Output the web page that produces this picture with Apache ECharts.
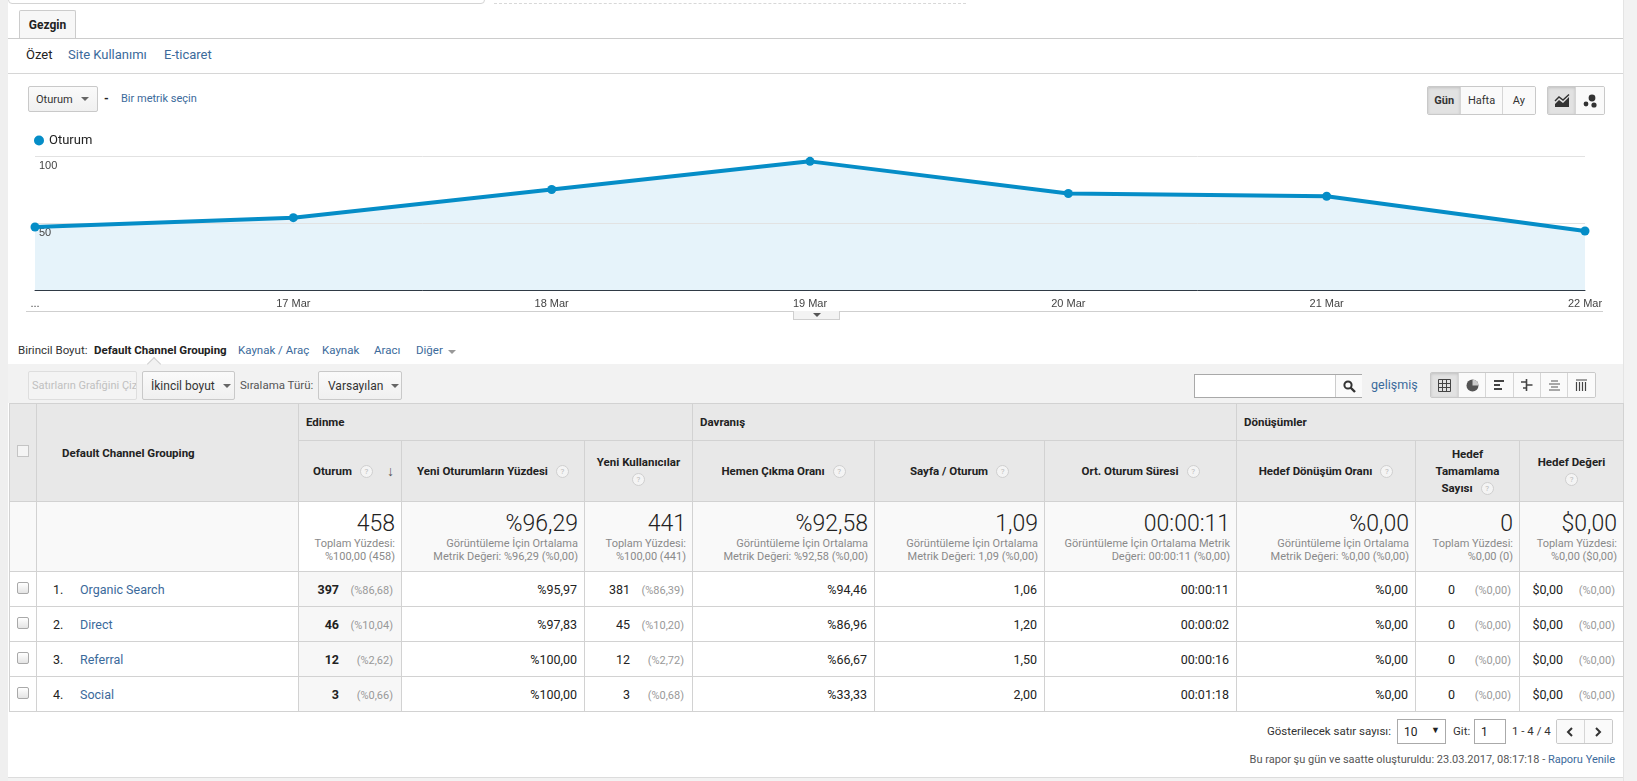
<!DOCTYPE html>
<html>
<head>
<meta charset="utf-8">
<script src="https://cdn.jsdelivr.net/npm/echarts@6/dist/echarts.min.js"></script>
<style>
body{margin:0;width:1637px;height:781px;overflow:hidden;background:#fff;font-family:Roboto,Arial,sans-serif;color:#222;position:relative}
.abs{position:absolute;white-space:nowrap}
.link{color:#3b6a9b}
.btn{position:absolute;box-sizing:border-box;border:1px solid #c9c9c9;border-radius:2px;background:linear-gradient(#fafafa,#f0f0f0);font-size:11px;color:#333;display:flex;align-items:center;white-space:nowrap}
.caret{display:inline-block;width:0;height:0;border-left:4px solid transparent;border-right:4px solid transparent;border-top:4px solid #666;margin-left:8px}
.grp{position:absolute;display:flex;box-sizing:border-box;border:1px solid #c9c9c9;border-radius:2px;overflow:hidden}
.grp div{display:flex;align-items:center;justify-content:center;border-right:1px solid #d6d6d6;background:#fafafa;font-size:11px;color:#333;box-sizing:border-box}
.grp div:last-child{border-right:none}
.grp div.on{background:#e2e2e2;box-shadow:inset 0 1px 3px rgba(0,0,0,.15);font-weight:bold}
table.dt{position:absolute;left:9px;top:403px;border-collapse:collapse;table-layout:fixed;width:1614px}
.dt td,.dt th{border:1px solid #d2d2d2;padding:0 7px;overflow:hidden}
.dt th{background:#e8e8e8;font-size:11.5px;font-weight:bold;color:#222}
.dt tr.g th{text-align:left;height:36px}
.dt tr.h th{text-align:center;height:60px;line-height:17px}
.q{display:inline-block;width:11px;height:11px;border:1px solid #cfcfcf;border-radius:50%;font-size:8px;line-height:11px;text-align:center;color:#bbb;font-weight:normal;margin-left:8px;vertical-align:middle;background:#f4f4f4}
.dt tr.t td{height:69px;background:#f9f9f9;text-align:right;vertical-align:middle;padding-right:6px}
.dt tr.t td.s{background:#fff}
.big{font-size:23px;font-weight:300;color:#222;line-height:26px}
.sub{font-size:11px;color:#8a8a8a;line-height:13px}
.dt tr.r td{height:34px;font-size:12.5px;color:#222;text-align:right;background:#fff}
.dt tr.r td.s{background:#f7f7f7}
.pc{display:inline-block;width:58px;text-align:right;font-size:11px;color:#999}
.cb{display:inline-block;width:10px;height:10px;border:1px solid #a9a9a9;border-radius:2px;background:linear-gradient(#fff,#e4e4e4)}
</style>
</head>
<body>
<!-- page frame -->
<div class="abs" style="left:0;top:0;width:8px;height:781px;background:#efefef"></div>
<div class="abs" style="left:1623px;top:0;width:14px;height:781px;background:#f2f2f2;border-left:1px solid #e4e4e4"></div>
<div class="abs" style="left:8px;top:-20px;width:475px;height:22px;border:1px solid #d4d4d4;border-radius:4px"></div>
<div class="abs" style="left:494px;top:3px;width:472px;border-top:1px dashed #d8d8d8"></div>

<!-- tabs -->
<div class="abs" style="left:19px;top:10px;width:57px;height:28px;box-sizing:border-box;border:1px solid #ccc;border-bottom:none;background:#f7f7f7;border-radius:2px 2px 0 0;font-size:12px;font-weight:bold;display:flex;align-items:center;justify-content:center;z-index:2">Gezgin</div>
<div class="abs" style="left:8px;top:38px;width:1615px;border-top:1px solid #ccc"></div>
<div class="abs" style="left:26px;top:47px;font-size:13px">Özet</div>
<div class="abs link" style="left:68px;top:47px;font-size:13px">Site Kullanımı</div>
<div class="abs link" style="left:164px;top:47px;font-size:13px">E-ticaret</div>
<div class="abs" style="left:8px;top:73px;width:1615px;border-top:1px solid #d6d6d6"></div>

<!-- metric picker and view buttons -->
<div class="btn" style="left:28px;top:86px;width:70px;height:26px;padding-left:7px">Oturum<span class="caret"></span></div>
<div class="abs" style="left:104px;top:92px;font-size:12px;font-weight:bold">-</div>
<div class="abs link" style="left:121px;top:92px;font-size:11px">Bir metrik seçin</div>
<div class="grp" style="left:1427px;top:86px;width:109px;height:29px">
  <div class="on" style="width:34px">Gün</div><div style="width:42px">Hafta</div><div style="width:33px">Ay</div>
</div>
<div class="grp" style="left:1547px;top:86px;width:58px;height:29px">
  <div class="on" style="width:29px"><svg width="16" height="14" viewBox="0 0 16 14"><path d="M1 13 L1 10 L5 6 L9 9 L15 3 L15 13 Z" fill="#333"/><path d="M1 7 L5 3 L9 6 L15 0.5" stroke="#333" stroke-width="1.4" fill="none"/></svg></div>
  <div style="width:29px"><svg width="16" height="14" viewBox="0 0 16 14"><circle cx="10" cy="4" r="3.4" fill="#333"/><circle cx="4" cy="10" r="2.4" fill="#333"/><circle cx="12" cy="11" r="2.6" fill="#333"/></svg></div>
</div>

<!-- chart -->
<div id="chart" class="abs" style="left:0;top:120px;width:1637px;height:200px"></div>
<div class="abs" style="left:26px;top:311px;width:1577px;border-top:1px solid #cfcfcf"></div>
<div class="abs" style="left:793px;top:311px;width:47px;height:9px;box-sizing:border-box;border:1px solid #cfcfcf;border-top:none;background:#f3f3f3;display:flex;justify-content:center;align-items:center"><span class="caret" style="margin:0;border-top-color:#555"></span></div>

<!-- dimension row -->
<div class="abs" style="left:18px;top:343px;font-size:11.5px;color:#333">Birincil Boyut:</div>
<div class="abs" style="left:94px;top:343px;font-size:11.5px;font-weight:bold">Default Channel Grouping</div>
<div class="abs link" style="left:238px;top:343px;font-size:11.5px">Kaynak / Araç</div>
<div class="abs link" style="left:322px;top:343px;font-size:11.5px">Kaynak</div>
<div class="abs link" style="left:374px;top:343px;font-size:11.5px">Aracı</div>
<div class="abs link" style="left:416px;top:343px;font-size:11.5px">Diğer <span class="caret" style="margin-left:2px;border-top-color:#999"></span></div>

<!-- toolbar -->
<div class="abs" style="left:8px;top:364px;width:1615px;height:39px;background:#f2f2f2"></div>
<div class="abs" style="left:149px;top:359px;width:9px;height:9px;background:#f2f2f2;border-left:1px solid #d0d0d0;border-top:1px solid #d0d0d0;transform:rotate(45deg)"></div>
<div class="btn" style="left:28px;top:371px;width:109px;height:29px;padding-left:3px;color:#c0c0c0;background:#f4f4f4;border-color:#dedede;overflow:hidden">Satırların Grafiğini Çiz</div>
<div class="btn" style="left:142px;top:371px;width:93px;height:29px;padding-left:8px;font-size:12px">İkincil boyut<span class="caret"></span></div>
<div class="abs" style="left:240px;top:378px;font-size:11.5px;color:#555">Sıralama Türü:</div>
<div class="btn" style="left:318px;top:371px;width:84px;height:29px;padding-left:9px;font-size:12px">Varsayılan<span class="caret"></span></div>
<div class="abs" style="left:1194px;top:374px;width:168px;height:24px;box-sizing:border-box;border:1px solid #a9a9a9;background:#fff"></div>
<div class="abs" style="left:1335px;top:375px;width:26px;height:22px;border-left:1px solid #ccc;background:#fafafa;display:flex;align-items:center;justify-content:center"><svg width="13" height="13" viewBox="0 0 13 13"><circle cx="5" cy="5" r="3.6" stroke="#333" stroke-width="2" fill="none"/><path d="M7.5 7.5 L12 12" stroke="#333" stroke-width="2.4"/></svg></div>
<div class="abs link" style="left:1371px;top:377px;font-size:12.5px">gelişmiş</div>
<div class="grp" style="left:1430px;top:372px;width:166px;height:26px">
  <div class="on" style="width:28px"><svg width="13" height="13"><path d="M0.5 0.5h12v12h-12z M0.5 4.5h12 M0.5 8.5h12 M4.5 0.5v12 M8.5 0.5v12" stroke="#444" fill="none"/></svg></div>
  <div style="width:28px"><svg width="13" height="13"><circle cx="6.5" cy="6.5" r="6" fill="#555"/><path d="M6.5 6.5V0.5A6 6 0 0 1 12.5 6.5Z" fill="#ccc"/></svg></div>
  <div style="width:28px"><svg width="12" height="12"><rect x="0" y="1" width="10" height="2" fill="#444"/><rect x="0" y="5" width="6" height="2" fill="#444"/><rect x="0" y="9" width="8" height="2" fill="#444"/></svg></div>
  <div style="width:27px"><svg width="13" height="12"><path d="M6.5 0v12 M1 3h5.5 M6.5 6h6 M3 9h3.5" stroke="#444" stroke-width="1.6"/></svg></div>
  <div style="width:28px"><svg width="13" height="12"><path d="M3 2h7 M1 5h11 M3 8h7 M1 11h11" stroke="#555" stroke-width="1.2"/></svg></div>
  <div style="width:27px"><svg width="13" height="12"><path d="M1 1h11 M1.5 3v9 M4.5 3v9 M7.5 3v9 M10.5 3v9" stroke="#444" stroke-width="1.2"/></svg></div>
</div>

<!-- table -->
<table class="dt" id="dt"></table>

<!-- footer -->
<div class="abs" style="left:1210px;top:724px;width:181px;text-align:right;font-size:11.5px;color:#333">Gösterilecek satır sayısı:</div>
<div class="abs" style="left:1397px;top:719px;width:49px;height:25px;box-sizing:border-box;border:1px solid #aaa;font-size:12px;padding:5px 0 0 6px;background:#fff">10<span style="position:absolute;right:5px;top:5px;font-size:9px">▼</span></div>
<div class="abs" style="left:1453px;top:724px;font-size:11.5px;color:#333">Git:</div>
<div class="abs" style="left:1474px;top:719px;width:32px;height:25px;box-sizing:border-box;border:1px solid #aaa;font-size:12px;padding:5px 0 0 6px;background:#fff">1</div>
<div class="abs" style="left:1512px;top:724px;font-size:11.5px;color:#333">1 - 4 / 4</div>
<div class="grp" style="left:1556px;top:719px;width:57px;height:25px">
  <div style="width:28px"><svg width="8" height="10"><path d="M6 1 L2 5 L6 9" stroke="#333" stroke-width="2" fill="none"/></svg></div>
  <div style="width:28px"><svg width="8" height="10"><path d="M2 1 L6 5 L2 9" stroke="#333" stroke-width="2" fill="none"/></svg></div>
</div>
<div class="abs" style="right:22px;top:753px;font-size:11px;color:#555">Bu rapor şu gün ve saatte oluşturuldu: 23.03.2017, 08:17:18 - <span class="link">Raporu Yenile</span></div>
<div class="abs" style="left:8px;top:777px;width:1615px;height:4px;border-top:1px solid #dcdcdc;background:#f2f2f2"></div>

<script>
// chart data
const days = ['...', '17 Mar', '18 Mar', '19 Mar', '20 Mar', '21 Mar', '22 Mar'];
const sessions = [47, 54, 75, 96, 72, 70, 44];

// table data
const channels = ['Organic Search', 'Direct', 'Referral', 'Social'];
const channelSessions = [397, 46, 12, 3];
const sessionShare = ['%86,68', '%10,04', '%2,62', '%0,66'];
const newSessionPct = ['%95,97', '%97,83', '%100,00', '%100,00'];
const newUsers = [381, 45, 12, 3];
const newUserShare = ['%86,39', '%10,20', '%2,72', '%0,68'];
const bounceRate = ['%94,46', '%86,96', '%66,67', '%33,33'];
const pagesPerSession = ['1,06', '1,20', '1,50', '2,00'];
const avgDuration = ['00:00:11', '00:00:02', '00:00:16', '00:01:18'];
const goalConvRate = ['%0,00', '%0,00', '%0,00', '%0,00'];
const goalCompletions = [0, 0, 0, 0];
const goalValue = ['$0,00', '$0,00', '$0,00', '$0,00'];

const totalsBig = ['458', '%96,29', '441', '%92,58', '1,09', '00:00:11', '%0,00', '0', '$0,00'];
const totalsSub = [
  'Toplam Yüzdesi:<br>%100,00 (458)',
  'Görüntüleme İçin Ortalama<br>Metrik Değeri: %96,29 (%0,00)',
  'Toplam Yüzdesi:<br>%100,00 (441)',
  'Görüntüleme İçin Ortalama<br>Metrik Değeri: %92,58 (%0,00)',
  'Görüntüleme İçin Ortalama<br>Metrik Değeri: 1,09 (%0,00)',
  'Görüntüleme İçin Ortalama Metrik<br>Değeri: 00:00:11 (%0,00)',
  'Görüntüleme İçin Ortalama<br>Metrik Değeri: %0,00 (%0,00)',
  'Toplam Yüzdesi:<br>%0,00 (0)',
  'Toplam Yüzdesi:<br>%0,00 ($0,00)',
];
const groups = [['Edinme', 3], ['Davranış', 3], ['Dönüşümler', 3]];
const colWidths = [27, 262, 103, 183, 108, 182, 170, 192, 179, 104, 104];

const q = '<span class="q">?</span>';
const qc = '<span class="q" style="margin-left:0">?</span>';
const metricHeads = [
  'Oturum' + q + '<span style="float:right;font-size:14px;color:#555">&#8595;</span>',
  'Yeni Oturumların Yüzdesi' + q,
  'Yeni Kullanıcılar<br>' + qc,
  'Hemen Çıkma Oranı' + q,
  'Sayfa / Oturum' + q,
  'Ort. Oturum Süresi' + q,
  'Hedef Dönüşüm Oranı' + q,
  'Hedef<br>Tamamlama<br>Sayısı' + q,
  'Hedef Değeri<br>' + qc,
];

// build the table
const table = document.getElementById('dt');
let html = '<colgroup>' + colWidths.map(w => `<col style="width:${w}px">`).join('') + '</colgroup>';
html += '<tr class="g"><th rowspan="2" style="vertical-align:middle;padding:0 0 0 7px"><span style="display:inline-block;width:10px;height:10px;border:1px solid #c4c4c4;background:#f4f4f4"></span></th>';
html += '<th rowspan="2" style="padding-left:25px">Default Channel Grouping</th>';
groups.forEach(([name, span]) => { html += `<th colspan="${span}">${name}</th>`; });
html += '</tr><tr class="h">';
metricHeads.forEach((h, i) => {
  const style = i === 0 ? ' style="text-align:left;padding-left:14px"' : '';
  html += `<th${style}>${h}</th>`;
});
html += '</tr><tr class="t"><td style="background:#f9f9f9"></td><td style="background:#f9f9f9"></td>';
totalsBig.forEach((b, i) => {
  html += `<td class="${i === 0 ? 's' : ''}"><div class="big">${b}</div><div class="sub">${totalsSub[i]}</div></td>`;
});
html += '</tr>';
channels.forEach((name, i) => {
  html += '<tr class="r">';
  html += '<td style="text-align:center;padding:0"><span class="cb"></span></td>';
  html += `<td style="text-align:left;padding-left:16px"><span style="display:inline-block;width:27px">${i + 1}.</span><span class="link">${name}</span></td>`;
  html += `<td class="s" style="padding-right:8px"><b>${channelSessions[i]}</b><span class="pc" style="width:54px">(${sessionShare[i]})</span></td>`;
  html += `<td>${newSessionPct[i]}</td>`;
  html += `<td style="padding-right:8px">${newUsers[i]}<span class="pc" style="width:54px">(${newUserShare[i]})</span></td>`;
  html += `<td>${bounceRate[i]}</td>`;
  html += `<td>${pagesPerSession[i]}</td>`;
  html += `<td>${avgDuration[i]}</td>`;
  html += `<td>${goalConvRate[i]}</td>`;
  html += `<td style="padding-right:8px;font-weight:normal">${goalCompletions[i]}<span class="pc" style="width:56px">(%0,00)</span></td>`;
  html += `<td style="padding-right:8px;font-weight:normal">${goalValue[i]}<span class="pc" style="width:52px">(%0,00)</span></td>`;
  html += '</tr>';
});
table.innerHTML = html;

// instantiate echarts
const chart = echarts.init(document.getElementById('chart'));

// area fill sits below the grid lines and labels, the line and points above them
const option = {
  animation: false,
  legend: {
    data: ['Oturum'],
    left: 29,
    top: 9,
    icon: 'circle',
    itemWidth: 10,
    itemHeight: 10,
    textStyle: { fontSize: 13, color: '#222', fontFamily: 'Roboto, Arial' },
  },
  grid: { left: 35, right: 52, top: 36, bottom: 30 },
  xAxis: {
    type: 'category',
    boundaryGap: false,
    data: days,
    z: 3,
    axisLine: { lineStyle: { color: '#2f3a45', width: 1 } },
    axisTick: { show: false },
    axisLabel: { interval: 0, color: '#444', fontSize: 11, margin: 8, fontFamily: 'Arial' },
  },
  yAxis: {
    type: 'value',
    min: 0,
    max: 100,
    interval: 50,
    z: 3,
    axisLine: { show: false },
    axisTick: { show: false },
    splitLine: { lineStyle: { color: '#e2e2e2' } },
    axisLabel: {
      inside: true,
      verticalAlign: 'top',
      margin: 4,
      padding: [4, 0, 0, 0],
      color: '#444',
      fontSize: 11,
      fontFamily: 'Arial',
      formatter: v => (v === 0 ? '' : v),
    },
  },
  series: [
    {
      name: 'fill',
      type: 'line',
      z: 1,
      data: sessions,
      symbol: 'none',
      silent: true,
      lineStyle: { width: 0 },
      areaStyle: { color: '#e6f3fa', opacity: 1 },
    },
    {
      name: 'Oturum',
      type: 'line',
      z: 4,
      data: sessions,
      symbol: 'circle',
      symbolSize: 9,
      lineStyle: { width: 4, color: '#058dc7' },
      itemStyle: { color: '#058dc7' },
    },
  ],
};
chart.setOption(option);
</script>
</body>
</html>
